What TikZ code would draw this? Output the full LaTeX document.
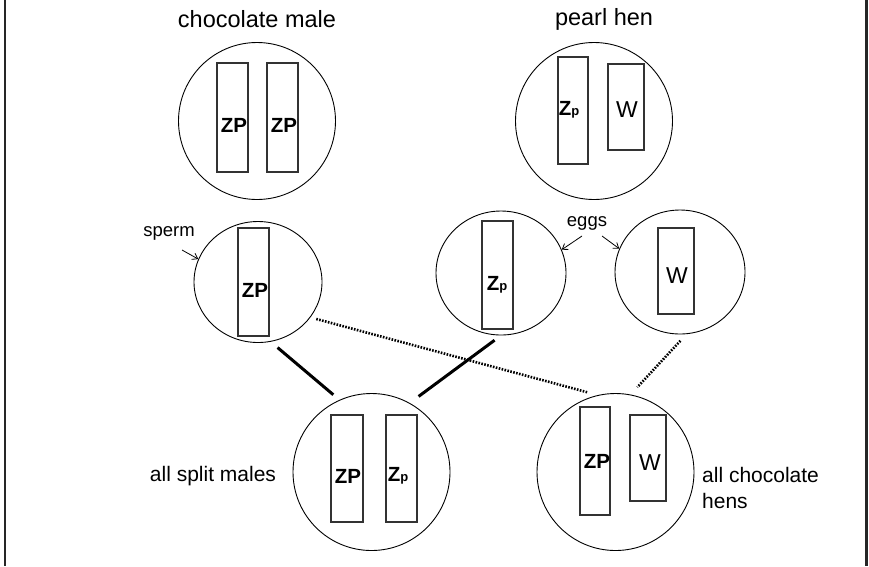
\documentclass[tikz,border=0pt]{standalone}
\usepackage{fontspec}
\setmainfont{Liberation Sans}
\usetikzlibrary{shapes.geometric,arrows.meta}
\tikzset{
  cell/.style={draw=black, line width=0.9pt, circle, inner sep=0pt, minimum size=157pt},
  gamete/.style={draw=black, line width=0.9pt, ellipse, inner sep=0pt},
  chrom/.style={draw=black!80, line width=1.2pt, rectangle, inner sep=0pt},
  zp/.style={inner sep=0pt, font=\fontsize{20.5}{20}\selectfont\bfseries},
  wlab/.style={inner sep=0pt, font=\fontsize{23}{23}\selectfont},
  title/.style={inner sep=0pt, font=\fontsize{23.5}{24}\selectfont},
  lbl/.style={inner sep=0pt, font=\fontsize{21}{26}\selectfont, align=left},
  small/.style={inner sep=0pt, font=\fontsize{18.5}{18}\selectfont},
  cross/.style={line width=3pt, black},
  dotline/.style={line width=2.6pt, black, dash pattern=on 1.6pt off 1.4pt},
  pointer/.style={line width=0.8pt, -{Straight Barb[length=5pt,width=7pt]}}
}
\newcommand{\Zsmallp}{\textbf{Z\fontsize{13}{13}\selectfont p}}
\begin{document}
\begin{tikzpicture}[x=1pt,y=-1pt]
\useasboundingbox (0,0) rectangle (869,566);
% side frame lines
\draw[line width=2.5pt, black!85] (5,0) -- (5,566);
\draw[line width=3pt, black!85] (866.5,0) -- (866.5,566);

% titles
\node[title] (t1) at (257,19) {chocolate male};
\node[title] (t2) at (604,19) {pearl hen};

% chocolate male
\node[cell] (cm) at (257,121) {};
\node[chrom, minimum width=31pt, minimum height=109pt] (cm1) at (232.5,117.5) {};
\node[chrom, minimum width=31pt, minimum height=109pt] (cm2) at (282.5,117.5) {};
\node[zp] (cm1t) at (234,125) {ZP};
\node[zp] (cm2t) at (284,125) {ZP};

% pearl hen
\node[cell] (ph) at (594,121) {};
\node[chrom, minimum width=30pt, minimum height=107pt] (ph1) at (573,110.5) {};
\node[chrom, minimum width=36pt, minimum height=86pt] (ph2) at (626,107) {};
\node[zp] (ph1t) at (569,110) {\Zsmallp};
\node[wlab] (ph2t) at (627,110) {W};

% sperm
\node[gamete, minimum width=128pt, minimum height=121pt] (sp) at (258,282) {};
\node[chrom, minimum width=31pt, minimum height=108pt] (sp1) at (253.5,282) {};
\node[zp] (sp1t) at (255,290) {ZP};
\node[small] (splbl) at (169,233) {sperm};
\coordinate (spa) at (182,250);
\draw[pointer] (spa) -- (sp.159);

% eggs
\node[gamete, minimum width=130pt, minimum height=124pt] (ez) at (501,273) {};
\node[chrom, minimum width=31pt, minimum height=108pt] (ez1) at (497.5,275) {};
\node[zp] (ez1t) at (497,285) {\Zsmallp};
\node[gamete, minimum width=130pt, minimum height=124pt] (ew) at (680,272) {};
\node[chrom, minimum width=36pt, minimum height=86pt] (ew1) at (676,271) {};
\node[wlab] (ew1t) at (677,276) {W};
\node[small] (egglbl) at (587,223) {eggs};
\coordinate (ega) at (582,236);
\coordinate (egb) at (602,236);
\draw[pointer] (ega) -- (ez.21);
\draw[pointer] (egb) -- (ew.159);

% split males
\node[cell] (sm) at (371.5,472) {};
\node[chrom, minimum width=32pt, minimum height=107pt] (sm1) at (347,468.5) {};
\node[chrom, minimum width=31pt, minimum height=107pt] (sm2) at (401.5,468.5) {};
\node[zp] (sm1t) at (348,476) {ZP};
\node[zp] (sm2t) at (398,476) {\Zsmallp};
\node[lbl] (smlbl) at (213,476) {all split males};

% chocolate hens
\node[cell] (ch) at (615.5,472) {};
\node[chrom, minimum width=30pt, minimum height=108pt] (ch1) at (595,461) {};
\node[chrom, minimum width=36pt, minimum height=86pt] (ch2) at (648,458) {};
\node[zp] (ch1t) at (597,461) {ZP};
\node[wlab] (ch2t) at (650,463) {W};
\node[lbl, anchor=west] (chlbl) at (702,488) {all chocolate\\hens};

% crosses
\draw[cross, shorten <=9pt, shorten >=8pt] (sp.-78.5) -- (sm.114);
\draw[cross, shorten <=11pt, shorten >=8pt] (sm.61) -- (ez.-90);
\draw[dotline, shorten <=6pt, shorten >=10pt] (sp.-34) -- (ch.103.5);
\draw[dotline, shorten <=9pt, shorten >=10pt] (ew.-84.5) -- (ch.79.3);
\end{tikzpicture}
\end{document}
